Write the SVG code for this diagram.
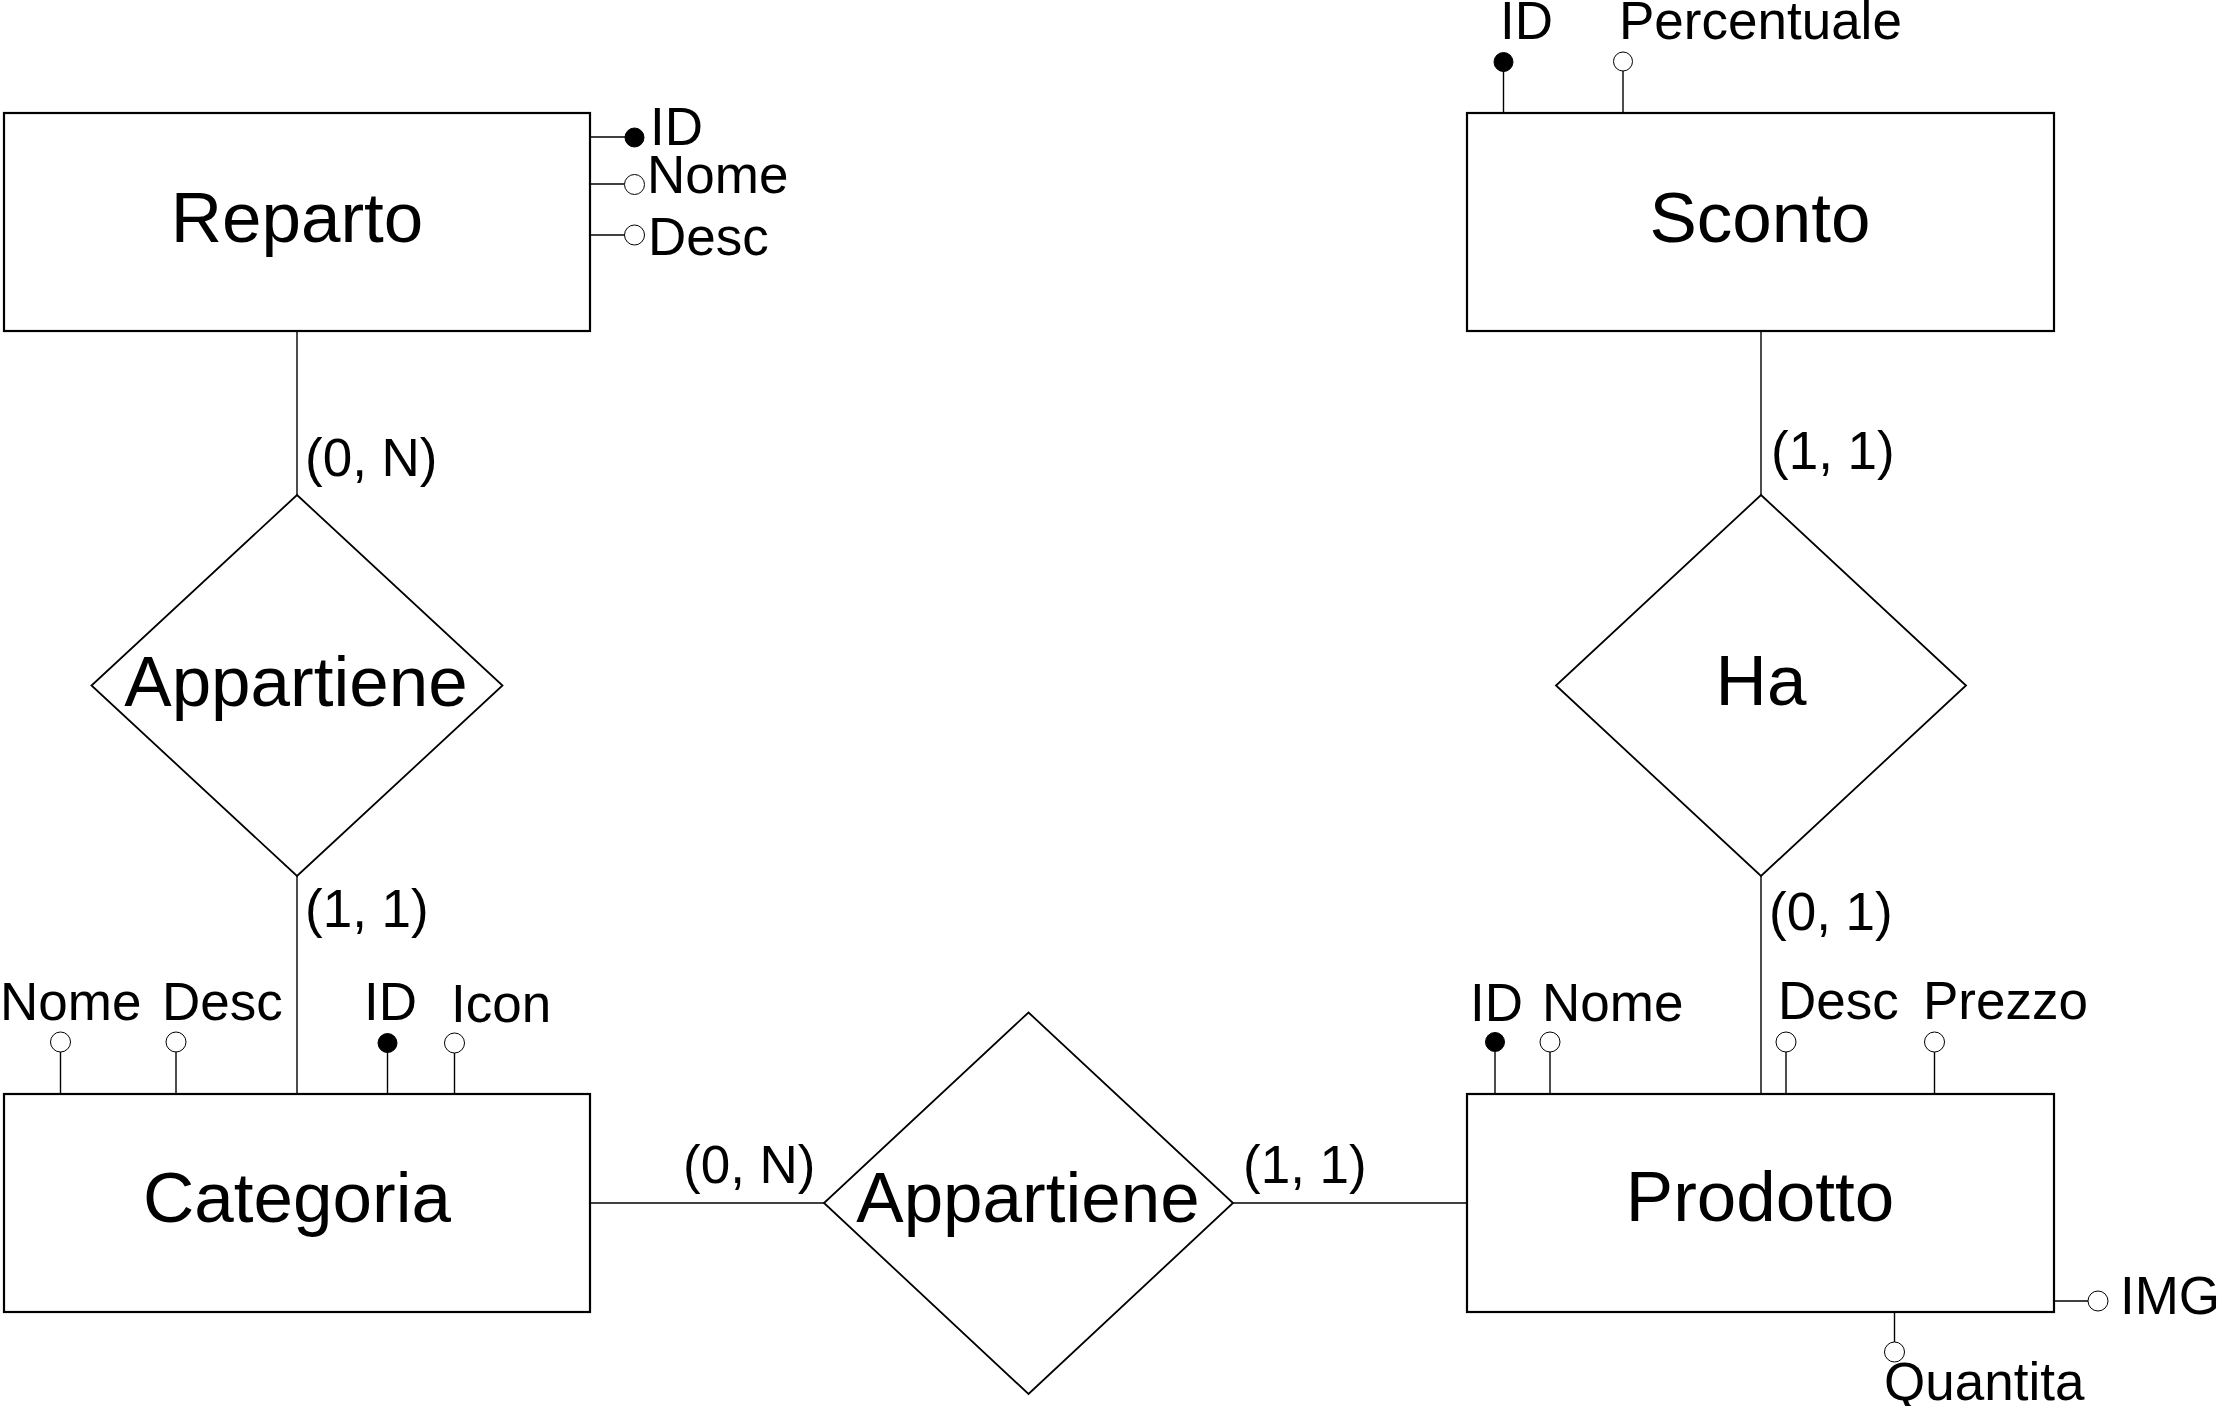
<svg xmlns="http://www.w3.org/2000/svg" width="2225" height="1406" viewBox="0 0 2225 1406">
<style>
text{font-family:"Liberation Sans",Arial,Helvetica,sans-serif;fill:#000}
.big{font-size:71px;text-anchor:middle}
.lbl{font-size:53px}
.ent{fill:#fff;stroke:#000;stroke-width:2.2}
.rel{fill:#fff;stroke:#000;stroke-width:1.8}
.ln{stroke:#000;stroke-width:1.4;fill:none}
.key{fill:#000;stroke:#000;stroke-width:1}
.att{fill:#fff;stroke:#000;stroke-width:1}
</style>
<rect width="2225" height="1406" fill="#fff"/>
<g id="connectors">
<line class="ln" x1="297" y1="331" x2="297" y2="495"/>
<line class="ln" x1="297" y1="876" x2="297" y2="1094"/>
<line class="ln" x1="1761" y1="331" x2="1761" y2="495"/>
<line class="ln" x1="1761" y1="876" x2="1761" y2="1094"/>
<line class="ln" x1="590" y1="1203" x2="824" y2="1203"/>
<line class="ln" x1="1233" y1="1203" x2="1467" y2="1203"/>
<text class="lbl" x="305" y="476">(0, N)</text>
<text class="lbl" x="305" y="927">(1, 1)</text>
<text class="lbl" x="683" y="1183">(0, N)</text>
<text class="lbl" x="1243" y="1183">(1, 1)</text>
<text class="lbl" x="1771" y="469">(1, 1)</text>
<text class="lbl" x="1769" y="930">(0, 1)</text>
</g>
<g id="reparto">
<rect class="ent" x="4" y="113" width="586" height="218"/>
<text class="big" x="297" y="242">Reparto</text>
<line class="ln" x1="590" y1="137" x2="625" y2="137"/>
<circle class="key" cx="634.5" cy="137.5" r="9.5"/>
<text class="lbl" x="650" y="145">ID</text>
<line class="ln" x1="590" y1="184" x2="624.5" y2="184"/>
<circle class="att" cx="634.5" cy="184.5" r="10"/>
<text class="lbl" x="647" y="193">Nome</text>
<line class="ln" x1="590" y1="235" x2="624.5" y2="235"/>
<circle class="att" cx="634.5" cy="235" r="10"/>
<text class="lbl" x="648" y="255">Desc</text>
</g>
<g id="sconto">
<rect class="ent" x="1467" y="113" width="587" height="218"/>
<text class="big" x="1760" y="242">Sconto</text>
<line class="ln" x1="1503.5" y1="71" x2="1503.5" y2="113"/>
<circle class="key" cx="1503.5" cy="62" r="9.5"/>
<text class="lbl" x="1500" y="39">ID</text>
<line class="ln" x1="1623" y1="71" x2="1623" y2="113"/>
<circle class="att" cx="1623" cy="61.5" r="9.5"/>
<text class="lbl" x="1619" y="39">Percentuale</text>
</g>
<g id="categoria">
<rect class="ent" x="4" y="1094" width="586" height="218"/>
<text class="big" x="297" y="1222">Categoria</text>
<line class="ln" x1="60.5" y1="1052" x2="60.5" y2="1094"/>
<circle class="att" cx="60.5" cy="1042" r="10"/>
<text class="lbl" x="0" y="1020">Nome</text>
<line class="ln" x1="176" y1="1052" x2="176" y2="1094"/>
<circle class="att" cx="176" cy="1042" r="10"/>
<text class="lbl" x="162" y="1020">Desc</text>
<line class="ln" x1="387.5" y1="1052" x2="387.5" y2="1094"/>
<circle class="key" cx="387.5" cy="1043" r="9.5"/>
<text class="lbl" x="364" y="1020">ID</text>
<line class="ln" x1="454.5" y1="1053" x2="454.5" y2="1094"/>
<circle class="att" cx="454.5" cy="1043" r="10"/>
<text class="lbl" x="451" y="1022">Icon</text>
</g>
<g id="prodotto">
<rect class="ent" x="1467" y="1094" width="587" height="218"/>
<text class="big" x="1760" y="1221">Prodotto</text>
<line class="ln" x1="1495" y1="1052" x2="1495" y2="1094"/>
<circle class="key" cx="1495" cy="1042" r="9.5"/>
<text class="lbl" x="1470" y="1021">ID</text>
<line class="ln" x1="1550" y1="1052" x2="1550" y2="1094"/>
<circle class="att" cx="1550" cy="1042" r="10"/>
<text class="lbl" x="1542" y="1021">Nome</text>
<line class="ln" x1="1786" y1="1052" x2="1786" y2="1094"/>
<circle class="att" cx="1786" cy="1042" r="10"/>
<text class="lbl" x="1778" y="1019">Desc</text>
<line class="ln" x1="1934.5" y1="1052" x2="1934.5" y2="1094"/>
<circle class="att" cx="1934.5" cy="1042" r="10"/>
<text class="lbl" x="1923" y="1019">Prezzo</text>
<line class="ln" x1="2054" y1="1301" x2="2088" y2="1301"/>
<circle class="att" cx="2098" cy="1301" r="10"/>
<text class="lbl" x="2120" y="1314">IMG</text>
<line class="ln" x1="1894.5" y1="1312" x2="1894.5" y2="1342"/>
<circle class="att" cx="1894.5" cy="1352" r="10"/>
<text class="lbl" x="1884" y="1400">Quantita</text>
</g>
<g id="appartiene1">
<polygon class="rel" points="297,495 502.5,685.5 297,876 91.5,685.5"/>
<text class="big" x="296" y="706">Appartiene</text>
</g>
<g id="ha">
<polygon class="rel" points="1761,495 1966,685.5 1761,876 1556,685.5"/>
<text class="big" x="1761" y="705">Ha</text>
</g>
<g id="appartiene2">
<polygon class="rel" points="1028.5,1012.5 1233,1203 1028.5,1394 824,1203"/>
<text class="big" x="1028" y="1222">Appartiene</text>
</g>
</svg>
